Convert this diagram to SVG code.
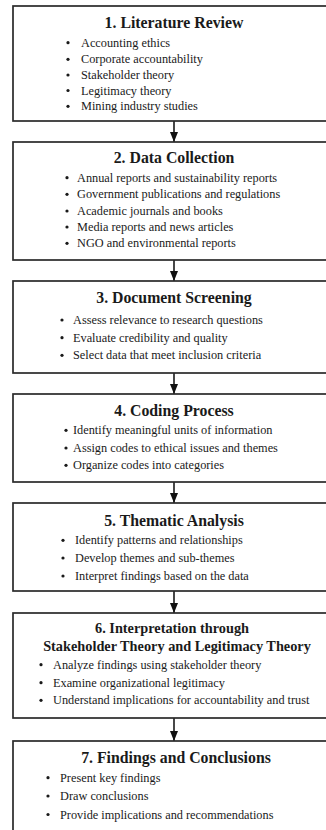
<svg xmlns="http://www.w3.org/2000/svg" width="326" height="830" viewBox="0 0 326 830">
<defs>
<style>
.box{fill:#ffffff;stroke:#2a2a2a;stroke-width:1.7}
.t{font-family:"Liberation Serif","Times New Roman",serif;font-weight:bold;font-size:15.8px;fill:#1a1a1a;text-anchor:middle}
.t6{font-size:14.3px}
.b{font-family:"Liberation Serif","Times New Roman",serif;font-size:12.3px;fill:#1a1a1a}
.dot{fill:#1a1a1a}
.conn{stroke:#1a1a1a;stroke-width:1.6;fill:none}
</style>
<marker id="ah" viewBox="0 0 10 8" refX="10" refY="4" markerWidth="10" markerHeight="8" markerUnits="userSpaceOnUse" orient="auto">
<path d="M0,0 L10,4 L0,8 Z" fill="#111"/>
</marker>
</defs>
<rect width="326" height="830" fill="#ffffff"/>

<g id="connectors">
<line class="conn" x1="174" y1="121" x2="174" y2="142" marker-end="url(#ah)"/>
<line class="conn" x1="174" y1="260" x2="174" y2="281" marker-end="url(#ah)"/>
<line class="conn" x1="174" y1="373" x2="174" y2="394" marker-end="url(#ah)"/>
<line class="conn" x1="174" y1="482" x2="174" y2="503" marker-end="url(#ah)"/>
<line class="conn" x1="174" y1="591" x2="174" y2="613" marker-end="url(#ah)"/>
<line class="conn" x1="174" y1="718" x2="174" y2="741" marker-end="url(#ah)"/>
</g>

<g id="node1">
<rect class="box" x="13" y="6" width="330" height="115"/>
<text class="t" x="174" y="28.3">1. Literature Review</text>
<circle class="dot" cx="68" cy="42.7" r="1.6"/><text class="b" x="81" y="46.7">Accounting ethics</text>
<circle class="dot" cx="68" cy="59.3" r="1.6"/><text class="b" x="81" y="63.3">Corporate accountability</text>
<circle class="dot" cx="68" cy="75" r="1.6"/><text class="b" x="81" y="79">Stakeholder theory</text>
<circle class="dot" cx="68" cy="90.5" r="1.6"/><text class="b" x="81" y="94.5">Legitimacy theory</text>
<circle class="dot" cx="68" cy="106.3" r="1.6"/><text class="b" x="81" y="110.3">Mining industry studies</text>
</g>

<g id="node2">
<rect class="box" x="13" y="142" width="330" height="118"/>
<text class="t" x="174" y="163.3">2. Data Collection</text>
<circle class="dot" cx="67" cy="177.7" r="1.6"/><text class="b" x="77" y="181.7">Annual reports and sustainability reports</text>
<circle class="dot" cx="67" cy="194.3" r="1.6"/><text class="b" x="77" y="198.3">Government publications and regulations</text>
<circle class="dot" cx="67" cy="211" r="1.6"/><text class="b" x="77" y="215">Academic journals and books</text>
<circle class="dot" cx="67" cy="227" r="1.6"/><text class="b" x="77" y="231">Media reports and news articles</text>
<circle class="dot" cx="67" cy="243.3" r="1.6"/><text class="b" x="77" y="247.3">NGO and environmental reports</text>
</g>

<g id="node3">
<rect class="box" x="13" y="281" width="330" height="92"/>
<text class="t" x="174" y="303.3">3. Document Screening</text>
<circle class="dot" cx="62" cy="320" r="1.6"/><text class="b" x="73" y="324">Assess relevance to research questions</text>
<circle class="dot" cx="62" cy="337.7" r="1.6"/><text class="b" x="73" y="341.7">Evaluate credibility and quality</text>
<circle class="dot" cx="62" cy="355.3" r="1.6"/><text class="b" x="73" y="359.3">Select data that meet inclusion criteria</text>
</g>

<g id="node4">
<rect class="box" x="13" y="394" width="330" height="88"/>
<text class="t" x="174" y="415.7">4. Coding Process</text>
<circle class="dot" cx="66" cy="430.3" r="1.6"/><text class="b" x="73" y="434.3">Identify meaningful units of information</text>
<circle class="dot" cx="66" cy="448" r="1.6"/><text class="b" x="73" y="452">Assign codes to ethical issues and themes</text>
<circle class="dot" cx="66" cy="465.3" r="1.6"/><text class="b" x="73" y="469.3">Organize codes into categories</text>
</g>

<g id="node5">
<rect class="box" x="13" y="503" width="330" height="88"/>
<text class="t" x="174" y="525.7">5. Thematic Analysis</text>
<circle class="dot" cx="63" cy="540.3" r="1.6"/><text class="b" x="75" y="544.3">Identify patterns and relationships</text>
<circle class="dot" cx="63" cy="558" r="1.6"/><text class="b" x="75" y="562">Develop themes and sub-themes</text>
<circle class="dot" cx="63" cy="576" r="1.6"/><text class="b" x="75" y="580">Interpret findings based on the data</text>
</g>

<g id="node6">
<rect class="box" x="13" y="613" width="330" height="105"/>
<text class="t t6" x="172" y="633.3">6. Interpretation through</text>
<text class="t t6" x="177" y="651">Stakeholder Theory and Legitimacy Theory</text>
<circle class="dot" cx="41" cy="664.7" r="1.6"/><text class="b" x="53" y="668.7">Analyze findings using stakeholder theory</text>
<circle class="dot" cx="41" cy="682.7" r="1.6"/><text class="b" x="53" y="686.7">Examine organizational legitimacy</text>
<circle class="dot" cx="41" cy="700.3" r="1.6"/><text class="b" x="53" y="704.3">Understand implications for accountability and trust</text>
</g>

<g id="node7">
<rect class="box" x="13" y="741" width="330" height="100"/>
<text class="t" x="176" y="762.7">7. Findings and Conclusions</text>
<circle class="dot" cx="48" cy="777.7" r="1.6"/><text class="b" x="60" y="781.7">Present key findings</text>
<circle class="dot" cx="48" cy="796" r="1.6"/><text class="b" x="60" y="800">Draw conclusions</text>
<circle class="dot" cx="48" cy="814.5" r="1.6"/><text class="b" x="60" y="818.5">Provide implications and recommendations</text>
</g>
</svg>
